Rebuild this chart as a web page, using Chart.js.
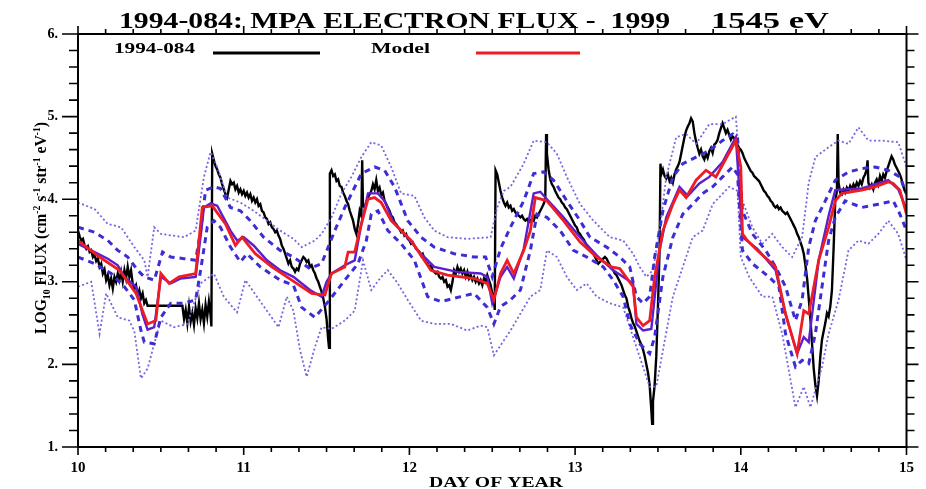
<!DOCTYPE html>
<html>
<head>
<meta charset="utf-8">
<script src="https://cdn.jsdelivr.net/npm/chart.js@4.4.1/dist/chart.umd.min.js"></script>
<style>
  html, body { margin: 0; padding: 0; background: #fff; }
</style>
</head>
<body>
<canvas id="flux" width="926" height="489"></canvas>
<script>
// [day of year, log10 flux]
const observed = [
  [10.00,3.62],[10.01,3.55],[10.02,3.50],[10.03,3.52],[10.04,3.44],[10.05,3.40],[10.06,3.43],[10.07,3.36],[10.08,3.38],[10.09,3.30],
  [10.10,3.33],[10.11,3.25],[10.12,3.28],[10.13,3.18],[10.14,3.22],[10.15,3.10],[10.16,3.15],[10.17,3.02],[10.18,3.08],[10.19,2.96],
  [10.20,3.04],[10.21,2.92],[10.22,3.06],[10.23,3.00],[10.24,3.10],[10.25,3.02],[10.26,3.12],[10.27,3.00],[10.28,3.14],[10.29,3.04],
  [10.30,3.18],[10.31,3.06],[10.32,3.14],[10.33,2.98],[10.34,2.92],[10.35,2.96],[10.36,2.84],[10.37,2.90],[10.38,2.80],[10.39,2.86],
  [10.40,2.74],[10.41,2.78],[10.42,2.71],[10.63,2.71],
  [10.64,2.55],[10.65,2.66],[10.66,2.50],[10.67,2.70],[10.68,2.52],[10.69,2.62],[10.70,2.48],[10.71,2.68],[10.72,2.56],[10.73,2.74],
  [10.74,2.55],[10.75,2.66],[10.76,2.50],[10.77,2.72],[10.78,2.58],[10.79,2.76],[10.80,2.60],[10.805,2.46],[10.81,4.55],
  [10.82,4.47],[10.83,4.40],[10.84,4.36],[10.85,4.30],[10.86,4.26],[10.87,4.18],[10.88,4.12],[10.89,4.06],[10.90,4.02],[10.91,4.12],
  [10.92,4.22],[10.93,4.18],[10.94,4.20],[10.95,4.12],[10.96,4.16],[10.97,4.08],[10.98,4.12],[10.99,4.06],[11.00,4.10],[11.01,4.04],
  [11.02,4.08],[11.03,4.02],[11.04,4.06],[11.05,3.98],[11.06,4.02],[11.07,3.96],[11.08,4.00],[11.09,3.92],[11.10,3.94],[11.11,3.86],
  [11.12,3.84],[11.13,3.78],[11.14,3.76],[11.15,3.70],[11.16,3.72],[11.17,3.66],[11.18,3.64],[11.19,3.60],[11.20,3.62],[11.21,3.56],
  [11.22,3.52],[11.23,3.44],[11.24,3.40],[11.25,3.34],[11.26,3.28],[11.27,3.22],[11.28,3.26],[11.29,3.18],[11.30,3.16],[11.31,3.12],
  [11.32,3.16],[11.33,3.14],[11.34,3.22],[11.35,3.26],[11.36,3.30],[11.37,3.28],[11.38,3.24],[11.39,3.26],[11.40,3.18],[11.41,3.20],
  [11.42,3.14],[11.43,3.10],[11.44,3.04],[11.45,3.00],[11.46,2.94],[11.47,2.88],[11.48,2.80],[11.49,2.70],[11.50,2.55],[11.51,2.30],
  [11.515,2.20],[11.52,4.31],[11.53,4.35],[11.54,4.28],[11.55,4.30],[11.56,4.22],[11.57,4.24],[11.58,4.16],[11.59,4.15],[11.60,4.08],
  [11.61,4.04],[11.62,3.98],[11.63,3.94],[11.64,3.86],[11.65,3.80],[11.66,3.74],[11.67,3.64],[11.68,3.58],[11.69,3.70],[11.70,3.86],
  [11.71,3.80],[11.715,4.47],[11.72,3.92],[11.73,3.90],[11.74,3.96],[11.75,4.02],[11.76,4.06],[11.77,4.10],[11.78,4.18],[11.79,4.12],
  [11.80,4.23],[11.81,4.10],[11.82,4.14],[11.83,4.05],[11.84,4.08],[11.85,3.98],[11.86,3.94],[11.87,3.90],[11.88,3.86],[11.89,3.80],
  [11.90,3.78],[11.91,3.72],[11.92,3.70],[11.93,3.66],[11.94,3.64],[11.95,3.60],[11.96,3.62],[11.97,3.56],[11.98,3.58],[11.99,3.52],
  [12.00,3.50],[12.01,3.46],[12.02,3.48],[12.03,3.44],[12.04,3.40],[12.05,3.38],[12.06,3.36],[12.07,3.32],[12.08,3.34],[12.09,3.28],
  [12.10,3.24],[12.11,3.22],[12.12,3.18],[12.13,3.20],[12.14,3.14],[12.15,3.12],[12.16,3.10],[12.17,3.12],[12.18,3.06],[12.19,3.04],
  [12.20,3.06],[12.21,3.00],[12.22,3.02],[12.23,2.94],[12.24,2.96],[12.25,2.90],[12.26,3.00],[12.27,3.14],[12.28,3.10],[12.29,3.18],
  [12.30,3.12],[12.31,3.16],[12.32,3.10],[12.33,3.14],[12.34,3.06],[12.35,3.12],[12.36,3.04],[12.37,3.08],[12.38,3.02],[12.39,3.06],
  [12.40,3.00],[12.41,3.04],[12.42,2.98],[12.43,3.02],[12.44,2.96],[12.45,3.04],[12.46,3.00],[12.47,3.08],[12.48,3.02],[12.49,2.96],
  [12.50,2.86],[12.51,2.80],[12.515,2.66],[12.52,4.35],[12.53,4.30],[12.54,4.20],[12.55,4.10],[12.56,4.02],[12.57,3.96],[12.58,3.92],
  [12.59,3.96],[12.60,3.90],[12.61,3.92],[12.62,3.86],[12.63,3.88],[12.64,3.84],[12.65,3.82],[12.66,3.80],[12.67,3.78],[12.68,3.80],
  [12.69,3.76],[12.70,3.74],[12.71,3.76],[12.72,3.72],[12.73,3.74],[12.74,3.76],[12.75,3.74],[12.76,3.80],[12.77,3.78],[12.78,3.82],
  [12.79,3.86],[12.80,3.90],[12.81,3.94],[12.82,4.00],[12.825,4.79],[12.83,4.55],[12.84,4.36],[12.85,4.24],[12.86,4.18],[12.87,4.15],
  [12.88,4.10],[12.89,4.06],[12.90,4.02],[12.91,4.00],[12.92,3.96],[12.93,3.94],[12.94,3.90],[12.95,3.88],[12.96,3.84],[12.97,3.80],
  [12.98,3.76],[12.99,3.72],[13.00,3.68],[13.01,3.66],[13.02,3.60],[13.03,3.58],[13.04,3.54],[13.05,3.52],[13.06,3.48],[13.07,3.44],
  [13.08,3.42],[13.09,3.38],[13.10,3.36],[13.11,3.34],[13.12,3.30],[13.13,3.26],[13.14,3.22],[13.15,3.24],[13.16,3.26],[13.17,3.28],
  [13.18,3.30],[13.19,3.28],[13.20,3.24],[13.21,3.20],[13.22,3.16],[13.23,3.14],[13.24,3.10],[13.25,3.08],[13.26,3.04],[13.27,3.00],
  [13.28,2.96],[13.29,2.90],[13.30,2.84],[13.31,2.80],[13.32,2.70],[13.33,2.64],[13.34,2.56],[13.35,2.50],[13.36,2.46],[13.37,2.40],
  [13.38,2.34],[13.39,2.28],[13.40,2.24],[13.41,2.18],[13.42,2.10],[13.43,2.00],[13.44,1.90],[13.45,1.75],[13.46,1.45],[13.465,1.28],
  [13.47,1.55],[13.48,1.75],[13.49,2.10],[13.50,2.70],[13.51,3.40],[13.515,4.43],[13.52,4.30],[13.53,4.36],[13.54,4.28],[13.55,4.25],
  [13.56,4.30],[13.57,4.22],[13.58,4.26],[13.59,4.20],[13.60,4.30],[13.61,4.36],[13.62,4.40],[13.63,4.45],[13.64,4.55],[13.65,4.65],
  [13.66,4.75],[13.67,4.83],[13.68,4.88],[13.69,4.92],[13.70,4.98],[13.71,4.94],[13.72,4.80],[13.73,4.70],[13.74,4.62],[13.75,4.55],
  [13.76,4.60],[13.77,4.52],[13.78,4.48],[13.79,4.55],[13.80,4.50],[13.81,4.58],[13.82,4.62],[13.83,4.56],[13.84,4.66],[13.85,4.68],
  [13.86,4.72],[13.87,4.80],[13.88,4.86],[13.89,4.92],[13.90,4.86],[13.91,4.80],[13.92,4.84],[13.93,4.78],[13.94,4.72],[13.95,4.76],
  [13.96,4.74],[13.97,4.70],[13.98,4.66],[13.99,4.62],[14.00,4.60],[14.01,4.56],[14.02,4.50],[14.03,4.46],[14.04,4.42],[14.05,4.38],
  [14.06,4.34],[14.07,4.32],[14.08,4.28],[14.09,4.26],[14.10,4.24],[14.11,4.22],[14.12,4.18],[14.13,4.14],[14.14,4.10],[14.15,4.08],
  [14.16,4.04],[14.17,4.02],[14.18,3.98],[14.19,3.96],[14.20,3.92],[14.21,3.90],[14.22,3.92],[14.23,3.88],[14.24,3.90],[14.25,3.86],
  [14.26,3.84],[14.27,3.82],[14.28,3.84],[14.29,3.80],[14.30,3.76],[14.31,3.72],[14.32,3.68],[14.33,3.64],[14.34,3.58],[14.35,3.54],
  [14.36,3.48],[14.37,3.42],[14.38,3.34],[14.39,3.20],[14.40,3.04],[14.41,2.80],[14.42,2.55],[14.43,2.25],[14.44,1.95],[14.45,1.75],
  [14.46,1.62],[14.47,1.80],[14.48,2.10],[14.49,2.30],[14.50,2.40],[14.51,2.50],[14.52,2.62],[14.53,2.58],[14.54,2.70],[14.55,2.90],
  [14.56,3.40],[14.57,3.98],[14.58,4.10],[14.585,4.79],[14.59,4.20],[14.60,4.08],[14.61,4.06],[14.62,4.12],[14.63,4.08],[14.64,4.14],
  [14.65,4.10],[14.66,4.16],[14.67,4.12],[14.68,4.18],[14.69,4.14],[14.70,4.20],[14.71,4.16],[14.72,4.22],[14.73,4.18],[14.74,4.26],
  [14.75,4.30],[14.76,4.36],[14.765,4.47],[14.77,4.20],[14.78,4.14],[14.79,4.18],[14.80,4.12],[14.81,4.20],[14.82,4.24],[14.83,4.18],
  [14.84,4.28],[14.85,4.22],[14.86,4.30],[14.87,4.26],[14.88,4.34],[14.89,4.40],[14.90,4.46],[14.91,4.52],[14.92,4.48],[14.93,4.42],
  [14.94,4.38],[14.95,4.34],[14.96,4.30],[14.97,4.24],[14.98,4.16],[14.99,4.10],[15.00,4.06]
];

const model = [
  [10.00,3.50],[10.13,3.30],[10.25,3.14],[10.35,2.86],[10.42,2.49],[10.47,2.53],[10.50,3.10],[10.55,2.98],[10.61,3.06],[10.71,3.10],
  [10.75,3.90],[10.81,3.92],[10.89,3.70],[10.95,3.44],[10.99,3.54],[11.07,3.34],[11.17,3.18],[11.29,3.02],[11.41,2.86],[11.49,2.84],
  [11.53,3.10],[11.61,3.18],[11.63,3.36],[11.67,3.36],[11.70,3.62],[11.75,4.00],[11.79,4.02],[11.83,3.96],[11.89,3.74],[12.01,3.50],
  [12.13,3.14],[12.23,3.08],[12.31,3.06],[12.39,3.04],[12.47,2.98],[12.51,2.78],[12.55,3.10],[12.59,3.26],[12.63,3.10],[12.69,3.38],
  [12.73,3.62],[12.76,4.02],[12.83,3.98],[12.93,3.74],[13.03,3.48],[13.13,3.30],[13.22,3.18],[13.27,3.16],[13.35,2.94],[13.37,2.57],
  [13.41,2.47],[13.45,2.53],[13.48,3.06],[13.53,3.62],[13.59,3.94],[13.63,4.11],[13.67,4.02],[13.73,4.23],[13.79,4.35],[13.85,4.27],
  [13.91,4.49],[13.97,4.71],[14.00,4.39],[14.01,3.58],[14.04,3.50],[14.10,3.38],[14.21,3.18],[14.27,2.61],[14.34,2.13],[14.38,2.65],
  [14.41,2.61],[14.47,3.26],[14.53,3.66],[14.57,3.98],[14.61,4.07],[14.73,4.11],[14.81,4.15],[14.89,4.21],[14.92,4.19],[14.96,4.11],
  [15.00,3.82]
];

const median = [
  [10.00,3.46],[10.10,3.36],[10.18,3.28],[10.24,3.20],[10.28,3.06],[10.35,2.94],[10.39,2.60],[10.42,2.42],[10.46,2.45],[10.50,3.06],
  [10.56,2.98],[10.62,3.04],[10.71,3.06],[10.74,3.55],[10.76,3.90],[10.80,3.95],[10.84,3.92],[10.92,3.62],[10.96,3.50],[11.00,3.54],
  [11.06,3.44],[11.14,3.26],[11.22,3.14],[11.30,3.06],[11.40,2.90],[11.47,2.82],[11.50,3.00],[11.53,3.10],[11.61,3.20],[11.67,3.26],
  [11.71,3.70],[11.75,4.07],[11.81,4.07],[11.85,3.98],[11.90,3.74],[11.96,3.60],[12.07,3.34],[12.15,3.18],[12.29,3.12],[12.43,3.10],
  [12.47,3.06],[12.50,2.74],[12.55,3.06],[12.59,3.18],[12.63,3.04],[12.69,3.40],[12.75,4.07],[12.79,4.09],[12.83,4.00],[12.93,3.78],
  [13.03,3.54],[13.13,3.32],[13.23,3.14],[13.35,2.98],[13.37,2.49],[13.41,2.41],[13.46,2.43],[13.51,3.38],[13.55,3.78],[13.63,4.15],
  [13.68,4.04],[13.75,4.19],[13.81,4.27],[13.89,4.45],[13.97,4.75],[14.01,3.54],[14.10,3.40],[14.21,3.14],[14.27,2.61],[14.34,2.13],
  [14.38,2.33],[14.41,2.27],[14.47,3.26],[14.53,3.80],[14.57,4.11],[14.65,4.12],[14.73,4.13],[14.81,4.18],[14.89,4.23],[14.95,4.12],
  [15.00,3.88]
];

const quartileHigh = [
  [10.00,3.66],[10.10,3.60],[10.18,3.50],[10.24,3.38],[10.30,3.30],[10.36,3.14],[10.40,3.06],[10.46,3.02],[10.51,3.36],[10.56,3.30],
  [10.64,3.28],[10.71,3.26],[10.74,3.62],[10.77,4.11],[10.82,4.15],[10.86,4.13],[10.92,3.90],[10.98,3.86],[11.04,3.74],[11.12,3.54],
  [11.22,3.38],[11.30,3.30],[11.40,3.16],[11.47,3.22],[11.55,3.62],[11.61,3.90],[11.71,4.31],[11.79,4.39],[11.85,4.35],[11.91,4.15],
  [11.99,3.74],[12.07,3.54],[12.15,3.42],[12.27,3.34],[12.39,3.30],[12.46,3.30],[12.50,3.06],[12.55,3.40],[12.61,3.66],[12.69,3.98],
  [12.75,4.31],[12.81,4.33],[12.87,4.23],[12.95,3.98],[13.03,3.74],[13.09,3.54],[13.19,3.42],[13.27,3.30],[13.33,3.18],[13.37,2.82],
  [13.41,2.74],[13.45,2.82],[13.48,3.30],[13.53,3.86],[13.59,4.27],[13.65,4.43],[13.73,4.51],[13.81,4.59],[13.89,4.71],[13.95,4.79],
  [13.98,4.75],[14.01,3.86],[14.07,3.58],[14.15,3.38],[14.21,3.18],[14.27,2.94],[14.33,2.53],[14.37,2.78],[14.41,3.42],[14.45,3.74],
  [14.51,3.98],[14.57,4.23],[14.65,4.33],[14.73,4.37],[14.81,4.39],[14.89,4.35],[14.96,4.27],[15.00,4.07]
];

const quartileLow = [
  [10.00,3.30],[10.10,3.22],[10.20,3.10],[10.28,2.94],[10.34,2.78],[10.38,2.41],[10.40,2.27],[10.46,2.25],[10.50,2.57],[10.56,2.74],
  [10.64,2.74],[10.71,2.78],[10.74,3.14],[10.78,3.66],[10.82,3.74],[10.86,3.66],[10.92,3.42],[10.98,3.24],[11.02,3.34],[11.10,3.18],
  [11.22,3.02],[11.30,2.96],[11.35,2.69],[11.43,2.57],[11.51,2.76],[11.61,3.02],[11.69,3.22],[11.74,3.50],[11.77,3.82],[11.81,3.86],
  [11.87,3.62],[11.95,3.46],[12.03,3.26],[12.11,2.82],[12.19,2.76],[12.31,2.82],[12.39,2.86],[12.47,2.69],[12.51,2.49],[12.55,2.70],
  [12.61,2.78],[12.67,2.90],[12.73,3.38],[12.77,3.82],[12.83,3.78],[12.91,3.62],[12.99,3.38],[13.07,3.30],[13.17,3.18],[13.23,3.02],
  [13.29,2.82],[13.33,2.49],[13.39,2.25],[13.45,2.13],[13.48,2.33],[13.53,3.06],[13.59,3.54],[13.65,3.82],[13.71,3.94],[13.77,4.07],
  [13.83,4.15],[13.89,4.27],[13.95,4.39],[13.98,4.30],[14.01,3.38],[14.07,3.22],[14.17,3.06],[14.23,2.94],[14.27,2.37],[14.33,1.97],
  [14.37,2.05],[14.41,2.01],[14.45,2.37],[14.49,2.94],[14.53,3.50],[14.57,3.78],[14.63,3.98],[14.73,3.90],[14.83,3.94],[14.92,3.98],
  [14.96,3.82],[15.00,3.62]
];

const outerHigh = [
  [10.00,3.96],[10.10,3.88],[10.18,3.70],[10.26,3.66],[10.34,3.42],[10.40,3.26],[10.42,3.06],[10.46,3.66],[10.50,3.58],[10.64,3.54],
  [10.71,3.62],[10.76,4.27],[10.80,4.57],[10.84,4.39],[10.90,4.02],[10.98,3.96],[11.06,3.86],[11.14,3.74],[11.22,3.62],[11.30,3.52],
  [11.35,3.42],[11.43,3.50],[11.47,3.58],[11.53,3.78],[11.59,4.07],[11.65,4.27],[11.71,4.51],[11.77,4.69],[11.83,4.65],[11.89,4.39],
  [11.95,4.07],[12.03,4.04],[12.09,3.78],[12.15,3.62],[12.23,3.54],[12.35,3.52],[12.49,3.54],[12.53,3.90],[12.57,4.10],[12.61,4.15],
  [12.69,4.43],[12.75,4.71],[12.83,4.69],[12.89,4.55],[12.95,4.27],[13.03,3.94],[13.11,3.74],[13.21,3.54],[13.29,3.50],[13.35,3.34],
  [13.39,3.18],[13.43,3.06],[13.47,3.14],[13.51,3.62],[13.55,4.27],[13.61,4.75],[13.67,4.79],[13.73,4.67],[13.81,4.91],[13.89,4.91],
  [13.97,5.00],[14.01,3.98],[14.07,3.66],[14.13,3.46],[14.19,3.58],[14.25,3.42],[14.31,3.30],[14.37,3.54],[14.41,4.20],[14.45,4.51],
  [14.53,4.63],[14.59,4.71],[14.65,4.67],[14.71,4.87],[14.77,4.71],[14.85,4.71],[14.95,4.69],[15.00,4.39]
];

const outerLow = [
  [10.00,2.94],[10.08,3.00],[10.13,2.37],[10.17,2.86],[10.24,2.57],[10.31,2.53],[10.34,2.40],[10.38,1.83],[10.42,1.95],[10.46,2.25],
  [10.50,2.53],[10.58,2.45],[10.66,2.49],[10.74,2.98],[10.82,3.10],[10.88,2.82],[10.96,2.63],[11.01,3.02],[11.08,2.82],[11.21,2.45],
  [11.26,2.82],[11.30,2.65],[11.34,2.17],[11.38,1.85],[11.43,2.21],[11.47,2.45],[11.53,2.43],[11.61,2.53],[11.67,2.65],[11.72,3.26],
  [11.77,2.90],[11.83,3.06],[11.87,3.14],[11.93,2.98],[11.99,2.78],[12.07,2.53],[12.15,2.49],[12.25,2.49],[12.35,2.41],[12.43,2.47],
  [12.47,2.45],[12.51,2.11],[12.61,2.41],[12.73,2.82],[12.79,2.90],[12.83,3.38],[12.89,3.30],[12.95,3.06],[13.01,2.90],[13.07,2.98],
  [13.13,2.82],[13.21,2.74],[13.29,2.69],[13.33,2.45],[13.39,2.09],[13.45,1.73],[13.49,1.73],[13.53,2.17],[13.59,2.82],[13.65,3.18],
  [13.71,3.54],[13.77,3.62],[13.83,3.94],[13.93,4.15],[13.98,4.10],[14.00,3.30],[14.05,3.06],[14.13,2.82],[14.19,2.82],[14.25,2.37],
  [14.33,1.48],[14.38,1.73],[14.42,1.48],[14.49,1.97],[14.53,2.37],[14.59,2.78],[14.65,3.38],[14.71,3.50],[14.77,3.46],[14.83,3.58],
  [14.89,3.74],[14.95,3.58],[15.00,3.26]
];

const xTicks = [10, 11, 12, 13, 14, 15];
const yTicks = [1, 2, 3, 4, 5, 6];
const titleMain = '1994-084: MPA ELECTRON FLUX -  1999';
const titleEnergy = '1545 eV';
const legendNames = ['1994-084', 'Model'];

const SERIF = '"Liberation Serif", "Times New Roman", serif';
const toXY = arr => arr.map(p => ({ x: p[0], y: p[1] }));

const line = (label, data, color, width, dash, order) => ({
  label: label,
  data: toXY(data),
  borderColor: color,
  borderWidth: width,
  borderDash: dash,
  pointRadius: 0,
  fill: false,
  tension: 0,
  order: order
});

// text squeezed/stretched to the width it has in the picture
function wideText(ctx, text, left, baseline, font, width) {
  ctx.save();
  ctx.font = font;
  const w = ctx.measureText(text).width;
  ctx.translate(left, baseline);
  ctx.scale(width / w, 1);
  ctx.fillText(text, 0, 0);
  ctx.restore();
}

const decorations = {
  id: 'decorations',
  afterDraw(chart) {
    const { ctx, chartArea: a, scales } = chart;
    const xs = scales.x, ys = scales.y;
    ctx.save();
    ctx.strokeStyle = '#000';
    ctx.fillStyle = '#000';

    // frame
    ctx.lineWidth = 2;
    ctx.strokeRect(a.left, a.top, a.right - a.left, a.bottom - a.top);

    // tick marks on all four sides
    ctx.lineWidth = 1.6;
    ctx.beginPath();
    for (let k = 0; k <= 30; k++) {
      const px = xs.getPixelForValue(10 + k / 6);
      const len = k % 6 === 0 ? 8 : 5;
      ctx.moveTo(px, a.bottom); ctx.lineTo(px, a.bottom + len);
      ctx.moveTo(px, a.top); ctx.lineTo(px, a.top - len);
    }
    for (let k = 0; k <= 25; k++) {
      const py = ys.getPixelForValue(1 + k * 0.2);
      const major = k % 5 === 0;
      ctx.moveTo(a.left - (major ? 16 : 9), py); ctx.lineTo(a.left, py);
      ctx.moveTo(a.right, py); ctx.lineTo(a.right + (major ? 12 : 8), py);
    }
    ctx.stroke();

    // title
    wideText(ctx, titleMain, 119, 28, 'bold 24px ' + SERIF, 551);
    wideText(ctx, titleEnergy, 711, 28, 'bold 24px ' + SERIF, 118);

    // legend
    wideText(ctx, legendNames[0], 114, 53, 'bold 14px ' + SERIF, 81);
    wideText(ctx, legendNames[1], 371, 53, 'bold 14px ' + SERIF, 59);
    ctx.lineWidth = 3;
    ctx.strokeStyle = '#000';
    ctx.beginPath(); ctx.moveTo(213, 53); ctx.lineTo(320, 53); ctx.stroke();
    ctx.strokeStyle = '#ee1c24';
    ctx.beginPath(); ctx.moveTo(476, 53); ctx.lineTo(580, 53); ctx.stroke();

    // x axis title
    wideText(ctx, 'DAY OF YEAR', 429, 487, 'bold 14px ' + SERIF, 134);

    // y axis title with sub/superscripts
    const parts = [
      ['LOG', 0, 13], ['10', 3, 8], [' FLUX (cm', 0, 13], ['-2', -5, 8], [' s', 0, 13], ['-1', -5, 8],
      [' str', 0, 13], ['-1', -5, 8], [' eV', 0, 13], ['-1', -5, 8], [')', 0, 13]
    ];
    let total = 0;
    parts.forEach(p => { ctx.font = 'bold ' + p[2] + 'px ' + SERIF; total += ctx.measureText(p[0]).width; });
    const targetLen = 212;
    ctx.translate(46, 228);
    ctx.rotate(-Math.PI / 2);
    ctx.scale(targetLen / total, 1.25);
    let cx = -total / 2;
    parts.forEach(p => {
      ctx.font = 'bold ' + p[2] + 'px ' + SERIF;
      ctx.fillText(p[0], cx, p[1]);
      cx += ctx.measureText(p[0]).width;
    });
    ctx.restore();
  }
};

new Chart(document.getElementById('flux'), {
  type: 'line',
  data: {
    datasets: [
      line('Model', model, '#ee1c24', 2.8, [], 1),
      line('Median', median, '#5b1fd0', 2.4, [], 2),
      line('Upper quartile', quartileHigh, '#3d2dd4', 3, [6, 5], 3),
      line('Lower quartile', quartileLow, '#3d2dd4', 3, [6, 5], 3),
      line('Upper bound', outerHigh, '#7565e0', 1.8, [2, 2.4], 4),
      line('Lower bound', outerLow, '#7565e0', 1.8, [2, 2.4], 4),
      line('1994-084', observed, '#000', 2.4, [], 5)
    ]
  },
  options: {
    responsive: false,
    animation: false,
    layout: { padding: { top: 34, right: 14, left: 0, bottom: 0 } },
    plugins: {
      legend: { display: false },
      tooltip: { enabled: false },
      title: { display: false }
    },
    scales: {
      x: {
        type: 'linear',
        min: 10,
        max: 15,
        afterBuildTicks: s => { s.ticks = xTicks.map(v => ({ value: v })); },
        afterFit: s => { s.height = 42; },
        grid: { display: false, drawTicks: false },
        border: { display: false },
        ticks: {
          color: '#000',
          padding: 12,
          maxRotation: 0,
          autoSkip: false,
          font: { family: SERIF, size: 15, weight: 'bold' }
        }
      },
      y: {
        min: 1,
        max: 6,
        afterBuildTicks: s => { s.ticks = yTicks.map(v => ({ value: v })); },
        afterFit: s => { s.width = 78; },
        grid: { display: false, drawTicks: false },
        border: { display: false },
        ticks: {
          color: '#000',
          padding: 20,
          callback: v => v + '.',
          font: { family: SERIF, size: 14, weight: 'bold' }
        }
      }
    }
  },
  plugins: [decorations]
});
</script>
</body>
</html>
